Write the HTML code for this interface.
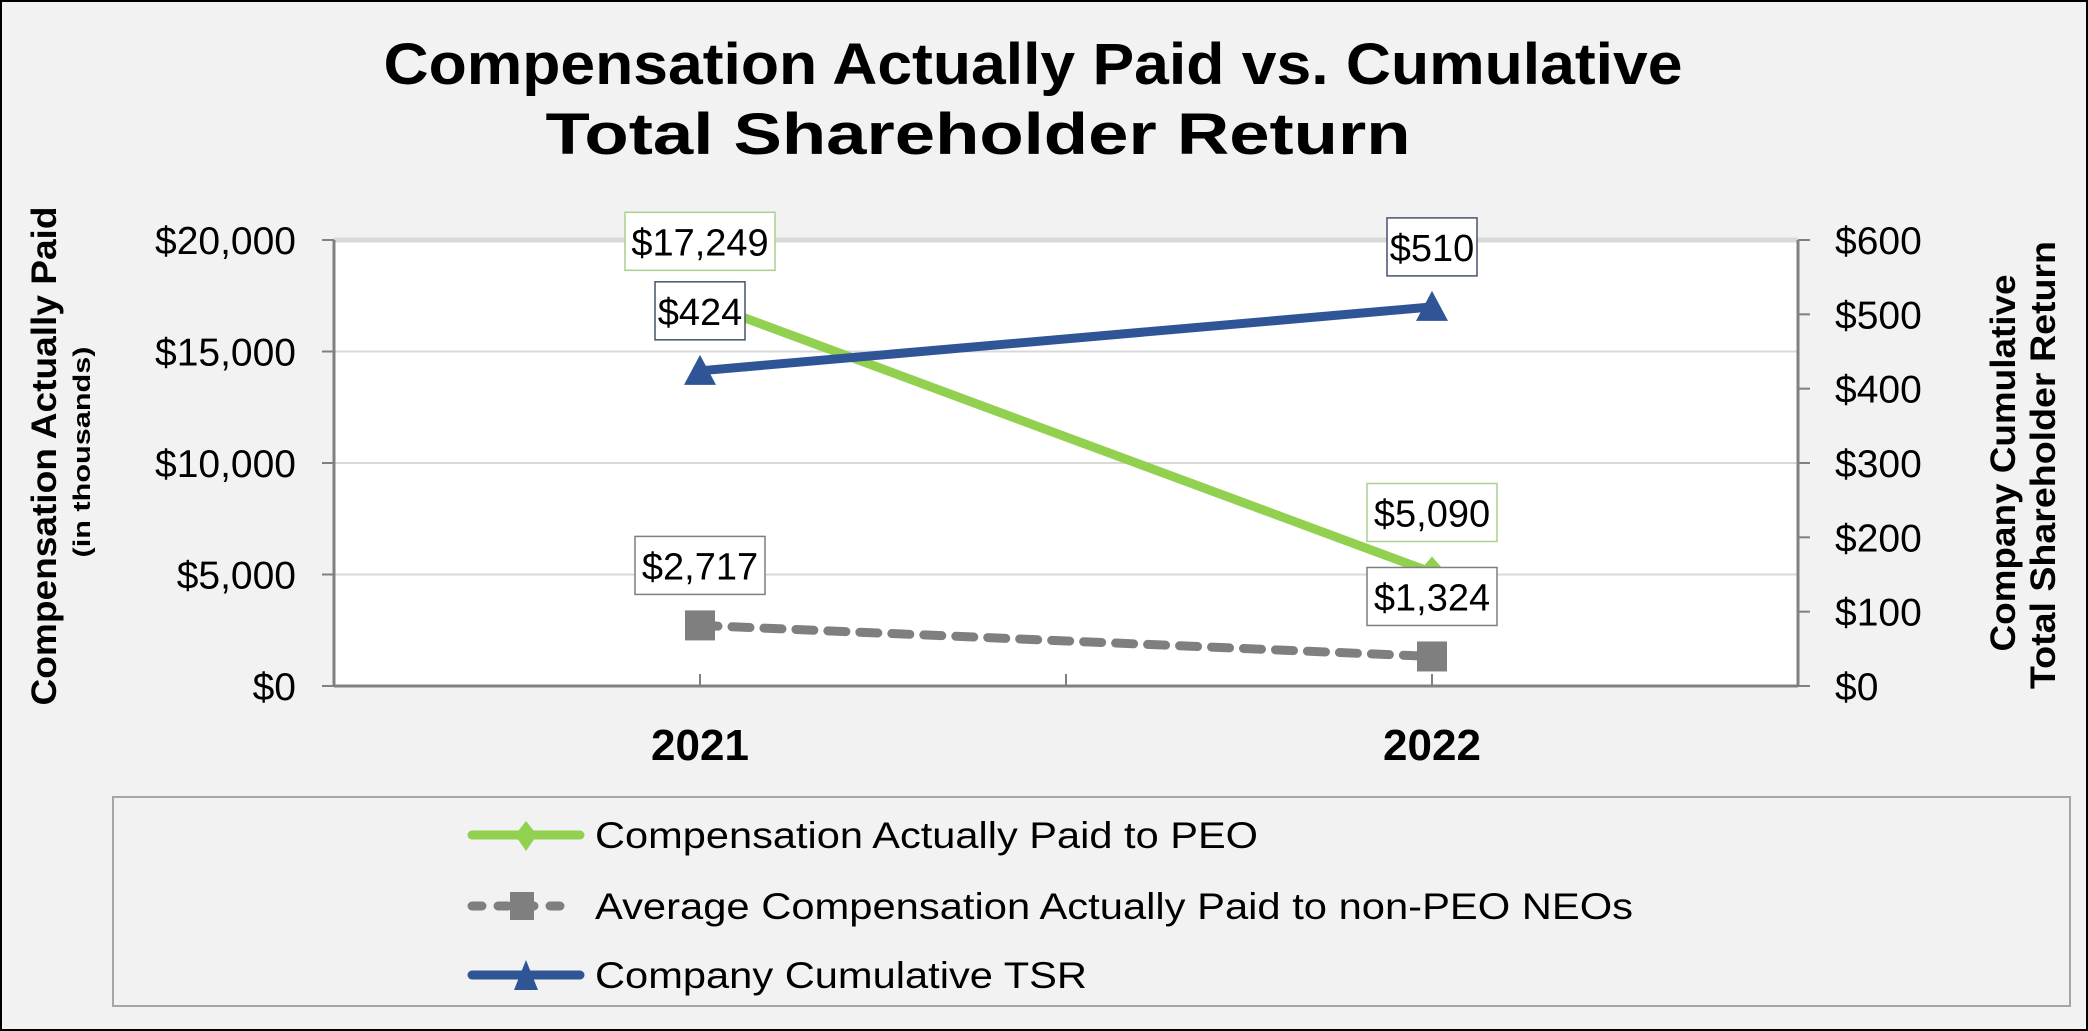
<!DOCTYPE html>
<html><head><meta charset="utf-8"><style>
html,body{margin:0;padding:0;background:#f2f2f2}
svg{display:block;font-family:"Liberation Sans",Arial,sans-serif}
</style></head><body>
<svg id="chart" width="2088" height="1031" viewBox="0 0 2088 1031">
<rect x="1" y="1" width="2086" height="1029" fill="#f2f2f2" stroke="#000" stroke-width="2"/>
<text x="1033" y="84" text-anchor="middle" font-size="58" font-weight="bold" textLength="1299" lengthAdjust="spacingAndGlyphs">Compensation Actually Paid vs. Cumulative</text>
<text x="978" y="154" text-anchor="middle" font-size="58" font-weight="bold" textLength="865" lengthAdjust="spacingAndGlyphs">Total Shareholder Return</text>
<rect x="334" y="240" width="1464" height="446" fill="#fff"/>
<g id="grid"></g>
<g id="axes"></g>
<g id="series"></g>
<g id="labels"></g>
<text transform="translate(56,456) rotate(-90)" text-anchor="middle" font-size="35" font-weight="bold" textLength="499" lengthAdjust="spacingAndGlyphs">Compensation Actually Paid</text>
<text transform="translate(90,452) rotate(-90)" text-anchor="middle" font-size="24" font-weight="bold" textLength="211" lengthAdjust="spacingAndGlyphs">(in thousands)</text>
<text transform="translate(2015,463) rotate(-90)" text-anchor="middle" font-size="35" font-weight="bold" textLength="377" lengthAdjust="spacingAndGlyphs">Company Cumulative</text>
<text transform="translate(2055,465) rotate(-90)" text-anchor="middle" font-size="35" font-weight="bold" textLength="448" lengthAdjust="spacingAndGlyphs">Total Shareholder Return</text>
<g>
<rect x="113" y="797" width="1957" height="209" fill="#f2f2f2" stroke="#a6a6a6" stroke-width="2"/>
<g>
<line x1="472" y1="835" x2="580" y2="835" stroke="#92d050" stroke-width="9" stroke-linecap="round"/>
<polygon points="526,821 537,835 526,851 515,835" fill="#92d050"/>
<text x="595" y="848" font-size="37" textLength="663" lengthAdjust="spacingAndGlyphs">Compensation Actually Paid to PEO</text></g>
<g>
<line x1="472" y1="906" x2="570" y2="906" stroke="#7f7f7f" stroke-width="9" stroke-linecap="round" stroke-dasharray="10 16"/>
<rect x="510" y="892" width="24" height="28" fill="#7f7f7f"/>
<text x="595" y="919" font-size="37" textLength="1038" lengthAdjust="spacingAndGlyphs">Average Compensation Actually Paid to non-PEO NEOs</text></g>
<g>
<line x1="472" y1="975" x2="580" y2="975" stroke="#2f5597" stroke-width="9" stroke-linecap="round"/>
<polygon points="514,990 526,960 538,990" fill="#2f5597"/>
<text x="595" y="988" font-size="37" textLength="492" lengthAdjust="spacingAndGlyphs">Company Cumulative TSR</text></g>
</g>
</svg>
<script>
const categories = ["2021", "2022"];
const peoValues = [17249, 5090];
const neoValues = [2717, 1324];
const tsrValues = [424, 510];
const peoLabels = ["$17,249", "$5,090"];
const neoLabels = ["$2,717", "$1,324"];
const tsrLabels = ["$424", "$510"];
const leftTicks = [0, 5000, 10000, 15000, 20000];
const leftTickLabels = ["$0", "$5,000", "$10,000", "$15,000", "$20,000"];
const rightTicks = [0, 100, 200, 300, 400, 500, 600];
const rightTickLabels = ["$0", "$100", "$200", "$300", "$400", "$500", "$600"];

const NS = "http://www.w3.org/2000/svg";
const X0 = 334, X1 = 1798, Y0 = 686, Y1 = 240;
const LMAX = 20000, RMAX = 600;
function xPos(i){ return X0 + (X1 - X0) * (i + 0.5) / categories.length; }
function yL(v){ return Y0 - (Y0 - Y1) * v / LMAX; }
function yR(v){ return Y0 - (Y0 - Y1) * v / RMAX; }
function mk(tag, attrs, parent, text){
  const e = document.createElementNS(NS, tag);
  for (const k in attrs) e.setAttribute(k, attrs[k]);
  if (text !== undefined) e.textContent = text;
  parent.appendChild(e);
  return e;
}
const grid = document.getElementById('grid');
const axes = document.getElementById('axes');
const series = document.getElementById('series');
const labels = document.getElementById('labels');

leftTicks.forEach((t, i) => {
  const y = yL(t);
  if (t > 0) {
    const g = mk('line', {x1: X0, x2: X1, y1: y, y2: y, stroke: '#d9d9d9', 'stroke-width': t === LMAX ? 5 : 2}, grid);
    
    
  }
  const tk = mk('line', {x1: X0 - 12, x2: X0, y1: y, y2: y, stroke: '#808080', 'stroke-width': 2}, axes);
  
  
  const tl = mk('text', {x: 296, y: y + 14, 'text-anchor': 'end', 'font-size': 39}, axes, leftTickLabels[i]);
  
  
});
rightTicks.forEach((t, i) => {
  const y = yR(t);
  const tk = mk('line', {x1: X1, x2: X1 + 12, y1: y, y2: y, stroke: '#808080', 'stroke-width': 2}, axes);
  
  
  const tl = mk('text', {x: 1835, y: y + 14, 'font-size': 39}, axes, rightTickLabels[i]);
  
  
});
let a = mk('line', {x1: X0, x2: X0, y1: Y1, y2: Y0, stroke: '#808080', 'stroke-width': 3}, axes);


a = mk('line', {x1: X1, x2: X1, y1: Y1, y2: Y0, stroke: '#808080', 'stroke-width': 3}, axes);


a = mk('line', {x1: X0, x2: X1, y1: Y0, y2: Y0, stroke: '#808080', 'stroke-width': 3}, axes);


for (let i = 1; i < categories.length * 2; i++) {
  const x = X0 + (X1 - X0) * i / (categories.length * 2);
  const t = mk('line', {x1: x, x2: x, y1: Y0, y2: Y0 - 12, stroke: '#808080', 'stroke-width': 2}, axes);
  
  
}
categories.forEach((c, i) => {
  const t = mk('text', {x: xPos(i), y: 760, 'text-anchor': 'middle', 'font-size': 44, 'font-weight': 'bold'}, axes, c);
  
  
});

function pts(vals, yf){ return vals.map((v, i) => xPos(i) + ',' + yf(v)).join(' '); }
let p = mk('polyline', {points: pts(neoValues, yL), fill: 'none', stroke: '#7f7f7f', 'stroke-width': 9, 'stroke-dasharray': '18 14', 'stroke-linecap': 'round'}, series);


neoValues.forEach((v, i) => {
  const m = mk('rect', {x: xPos(i) - 15, y: yL(v) - 15, width: 30, height: 30, fill: '#7f7f7f'}, series);
  
  
});
p = mk('polyline', {points: pts(peoValues, yL), fill: 'none', stroke: '#92d050', 'stroke-width': 9}, series);


peoValues.forEach((v, i) => {
  const x = xPos(i), y = yL(v);
  const m = mk('polygon', {points: `${x},${y-16} ${x+14},${y} ${x},${y+16} ${x-14},${y}`, fill: '#92d050'}, series);
  
  
});
p = mk('polyline', {points: pts(tsrValues, yR), fill: 'none', stroke: '#2f5597', 'stroke-width': 9}, series);


tsrValues.forEach((v, i) => {
  const x = xPos(i), y = yR(v);
  const m = mk('polygon', {points: `${x-16},${y+14} ${x},${y-16} ${x+16},${y+14}`, fill: '#2f5597'}, series);
  
  
});

function addLabel(x, y, txt, border, name){
  const w = txt.length * 20 + 10;
  const g = mk('g', {}, labels);
  
  
  mk('rect', {x: x - w/2, y: y - 31 - 58, width: w, height: 58, fill: '#fff', stroke: border, 'stroke-width': 1.5}, g);
  mk('text', {x: x, y: y - 31 - 15, 'text-anchor': 'middle', 'font-size': 38}, g, txt);
}
peoValues.forEach((v, i) => addLabel(xPos(i), yL(v), peoLabels[i], '#a9d18e', 'peo-data-label'));
tsrValues.forEach((v, i) => addLabel(xPos(i), yR(v), tsrLabels[i], '#44546a', 'tsr-data-label'));
neoValues.forEach((v, i) => addLabel(xPos(i), yL(v), neoLabels[i], '#7f7f7f', 'neo-data-label'));
</script>
</body></html>
